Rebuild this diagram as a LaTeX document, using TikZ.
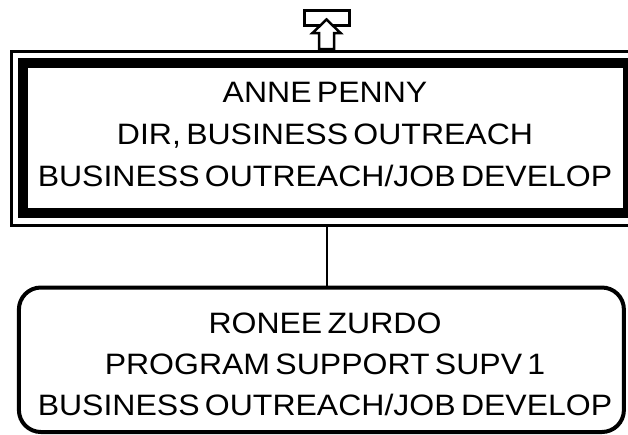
\documentclass[tikz,border=0pt]{standalone}
\usepackage{fontspec}
\setmainfont[FakeStretch=1.085,WordSpace=0.6]{Liberation Sans}
\begin{document}
\begin{tikzpicture}[x=1pt,y=-1pt,
  frame/.style={draw=black,inner sep=0pt,outer sep=0pt,fill=none},
  label/.style={anchor=base,inner sep=0pt,font=\fontsize{29.5}{34}\selectfont},
  conn/.style={draw=black,line width=2.5pt}]
\useasboundingbox (0,0) rectangle (628,434);
\clip (0,0) rectangle (628,434);
% top box: thin outer frame + thick inner frame
\node[frame,line width=3pt,minimum width=627pt,minimum height=174pt] (outer) at (325,138) {};
\node[frame,line width=10pt,minimum width=605pt,minimum height=150pt] (top) at (325,138) {};
\node[label] (t1) at (325,102) {ANNE PENNY};
\node[label] (t2) at (325,144) {DIR, BUSINESS OUTREACH};
\node[label] (t3) at (325,186) {BUSINESS OUTREACH/JOB DEVELOP};
% bottom rounded box
\node[frame,line width=4pt,rounded corners=22pt,minimum width=605pt,minimum height=144.5pt] (bot) at (321.4,359.75) {};
\node[label] (b1) at (325,333) {RONEE ZURDO};
\node[label] (b2) at (325,374) {PROGRAM SUPPORT SUPV 1};
\node[label] (b3) at (325,415) {BUSINESS OUTREACH/JOB DEVELOP};
% connector
\draw[conn] (outer.south -| 327,0) -- (bot.north -| 327,0);
% small box and hollow arrow at top
\node[frame,line width=3pt,minimum width=44.5pt,minimum height=15.5pt] (up) at (327,17.75) {};
\coordinate (tip) at (326.5,19.5);
\draw[line width=2.5pt,fill=white,line join=miter]
  (tip) -- (340.5,33) -- (334,33) -- (334,49) -- (319,49) -- (319,33) -- (312.5,33) -- cycle;
\end{tikzpicture}
\end{document}
